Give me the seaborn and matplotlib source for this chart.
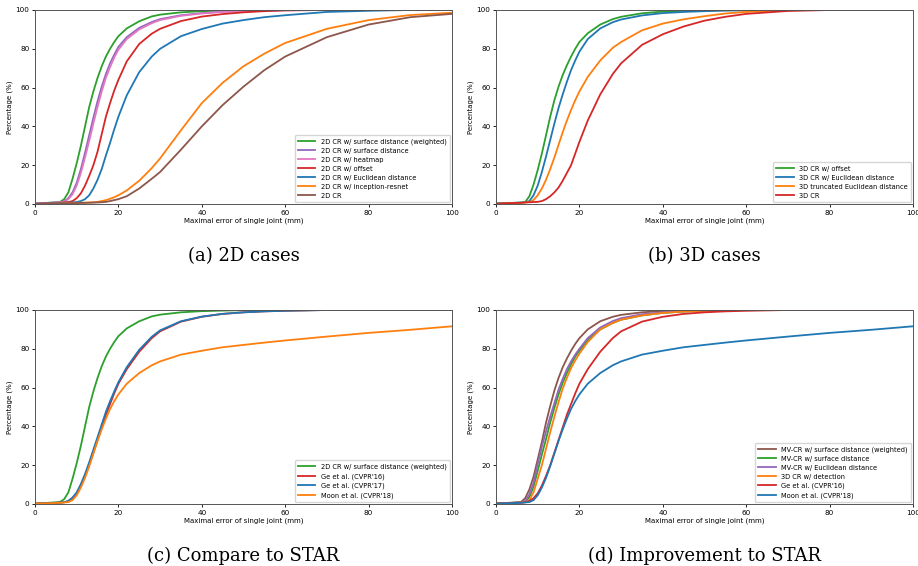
import pandas as pd
import matplotlib
matplotlib.use("Agg")
import matplotlib.pyplot as plt
import seaborn as sns

# shared error thresholds (mm)
err_mm = [0, 6, 7, 8, 9, 10, 11, 12, 13, 14, 15, 16, 17, 18, 19, 20,
          22, 25, 28, 30, 35, 40, 45, 50, 55, 60, 70, 80, 90, 100]

# (a) 2D cases
a_surf_w = [0.2, 1, 2.5, 6, 13, 21, 30, 40, 50, 58, 65, 71, 76, 80, 83.5, 86.5,
            90.5, 94.2, 96.7, 97.6, 98.8, 99.4, 99.7, 99.9, 100, 100, 100, 100, 100, 100]
a_surf = [0.2, 0.9, 1.3, 3, 6, 11, 18, 26.5, 35.5, 44.5, 53, 60.5, 67, 72.5, 77, 81,
          86, 90.8, 93.8, 95.3, 97.3, 98.4, 99.1, 99.5, 99.8, 99.9, 100, 100, 100, 100]
a_heatmap = [0.2, 0.8, 1.1, 2.5, 5, 9.5, 16, 24, 32.5, 41.5, 50, 58, 65, 70.5, 75.5, 79.5,
             85, 90, 93.2, 94.8, 97, 98.2, 99, 99.4, 99.7, 99.9, 100, 100, 100, 100]
a_offset = [0.1, 0.6, 0.8, 1, 1.5, 3, 5.5, 9.5, 14.5, 20, 27, 36, 45, 52, 58.5, 64,
            73.5, 82.5, 87.8, 90.3, 94.3, 96.6, 97.9, 98.8, 99.4, 99.8, 100, 100, 100, 100]
a_eucl = [0.1, 0.5, 0.6, 0.7, 0.8, 1, 1.5, 2.5, 4.5, 8, 12.5, 18, 25, 31.5, 38.5, 45,
          56, 68, 76, 80, 86.5, 90.2, 93, 94.8, 96.3, 97.3, 99, 99.6, 100, 100]
a_incep = [0, 0.3, 0.4, 0.5, 0.55, 0.6, 0.65, 0.7, 0.8, 0.9, 1.1, 1.5, 2, 2.7, 3.5, 4.5,
           7, 12, 18.5, 23.5, 38, 52, 62.5, 71, 77.5, 83, 90.3, 94.8, 97.4, 98.6]
a_plain = [0, 0.3, 0.35, 0.4, 0.45, 0.5, 0.55, 0.6, 0.65, 0.7, 0.8, 0.9, 1.1, 1.5, 2, 2.5,
           4, 8, 13, 16.5, 28, 40, 51, 60.5, 69, 76, 86, 92.5, 96.3, 98]

# (b) 3D cases
b_offset = [0.2, 0.8, 1, 4, 10, 17.5, 26, 35.5, 45, 53.5, 60.5, 66.5, 71.5, 76, 80, 83.5,
            88, 92.5, 95.3, 96.5, 98.3, 99.2, 99.6, 99.8, 99.9, 100, 100, 100, 100, 100]
b_eucl = [0.2, 0.7, 0.9, 1.5, 4.5, 9.5, 16.5, 24.5, 33, 41.5, 49.5, 56.5, 63, 69, 74, 78.5,
          85, 90.5, 93.7, 95.1, 97.2, 98.4, 99, 99.4, 99.7, 99.8, 100, 100, 100, 100]
b_trunc = [0.1, 0.6, 0.8, 1, 2, 4.5, 8, 12.5, 18, 24, 30.5, 37, 43, 48.5, 53.5, 58,
           65.5, 74, 80.5, 83.5, 89.5, 93, 95.2, 96.8, 98.2, 99, 99.9, 100, 100, 100]
b_plain = [0.2, 0.6, 0.8, 0.9, 1, 1.1, 1.5, 2.5, 4, 6, 8.5, 12, 16, 20, 26, 32,
           43, 56.5, 67, 72.5, 82, 87.5, 91.5, 94.5, 96.5, 98, 99.5, 100, 100, 100]

# (c) / (d) baselines
ge16 = [0.2, 0.7, 0.9, 1.5, 3, 5.5, 9.5, 14.5, 20, 26.5, 33, 39.5, 46, 51.5, 57, 62,
        69.5, 78.5, 85.5, 89, 94, 96.5, 98, 98.8, 99.3, 99.6, 100, 100, 100, 100]
ge17 = [0.2, 0.7, 0.9, 1.6, 3.3, 6, 10.3, 15.5, 21.5, 28, 34.5, 41, 47.5, 53, 58, 62.8,
        70.5, 79.5, 86.2, 89.5, 94.2, 96.6, 98, 98.8, 99.3, 99.6, 100, 100, 100, 100]
moon18 = [0.2, 0.6, 0.8, 1, 2, 4.5, 8.5, 13.5, 19.5, 26, 32.5, 38.5, 44, 49, 53, 56.5,
          62, 67.5, 71.5, 73.5, 77, 79, 80.8, 82, 83.2, 84.3, 86.3, 88.2, 89.8, 91.6]

# (d) multi-view
mv_surf_w = [0.2, 1, 3, 7.5, 14, 23, 32, 42, 50.5, 58.5, 65, 70.5, 75, 79, 82.5, 85.5,
             90, 94.2, 96.5, 97.5, 98.8, 99.5, 99.8, 99.9, 100, 100, 100, 100, 100, 100]
mv_surf = [0.2, 0.8, 1.2, 3.5, 9, 17, 25.5, 33.5, 42, 49.5, 56.5, 62.5, 67.5, 72, 76, 79,
           84.5, 90, 93.3, 95, 97.2, 98.5, 99.2, 99.6, 99.8, 100, 100, 100, 100, 100]
mv_eucl = [0.2, 0.8, 1.5, 5, 11, 20.5, 29.5, 37.5, 45, 52, 59, 64.5, 69.5, 73.5, 77, 80,
           85.5, 91, 94.3, 95.8, 97.8, 98.8, 99.4, 99.7, 99.9, 100, 100, 100, 100, 100]
det_3d = [0.2, 0.7, 0.9, 2, 6, 13, 20, 28.5, 37, 45, 52.5, 59.5, 65, 70, 74, 77.5,
          83.5, 90, 93.3, 95, 97.2, 98.5, 99.2, 99.6, 99.8, 100, 100, 100, 100, 100]

C = {"blue": "#1f77b4", "orange": "#ff7f0e", "green": "#2ca02c", "red": "#d62728",
     "purple": "#9467bd", "brown": "#8c564b", "pink": "#e377c2"}

panels = [
    ("(a) 2D cases", [
        ("2D CR w/ surface distance (weighted)", a_surf_w, "green"),
        ("2D CR w/ surface distance", a_surf, "purple"),
        ("2D CR w/ heatmap", a_heatmap, "pink"),
        ("2D CR w/ offset", a_offset, "red"),
        ("2D CR w/ Euclidean distance", a_eucl, "blue"),
        ("2D CR w/ inception-resnet", a_incep, "orange"),
        ("2D CR", a_plain, "brown"),
    ]),
    ("(b) 3D cases", [
        ("3D CR w/ offset", b_offset, "green"),
        ("3D CR w/ Euclidean distance", b_eucl, "blue"),
        ("3D truncated Euclidean distance", b_trunc, "orange"),
        ("3D CR", b_plain, "red"),
    ]),
    ("(c) Compare to STAR", [
        ("2D CR w/ surface distance (weighted)", a_surf_w, "green"),
        ("Ge et al. (CVPR'16)", ge16, "red"),
        ("Ge et al. (CVPR'17)", ge17, "blue"),
        ("Moon et al. (CVPR'18)", moon18, "orange"),
    ]),
    ("(d) Improvement to STAR", [
        ("MV-CR w/ surface distance (weighted)", mv_surf_w, "brown"),
        ("MV-CR w/ surface distance", mv_surf, "green"),
        ("MV-CR w/ Euclidean distance", mv_eucl, "purple"),
        ("3D CR w/ detection", det_3d, "orange"),
        ("Ge et al. (CVPR'16)", ge16, "red"),
        ("Moon et al. (CVPR'18)", moon18, "blue"),
    ]),
]

fig = plt.figure(figsize=(9.18, 5.66), dpi=100)
W, H = 918, 566
boxes = [(35, 10), (496, 10), (35, 310), (496, 310)]
aw, ah = 417, 194

for (caption, series), (px, py) in zip(panels, boxes):
    ax = fig.add_axes([px / W, 1 - (py + ah) / H, aw / W, ah / H])
    for name, vals, col in series:
        sns.lineplot(x=err_mm, y=vals, color=C[col], lw=1.3, label=name, ax=ax)
    ax.set_xlim(0, 100)
    ax.set_ylim(0, 100)
    ax.set_xticks(range(0, 101, 20))
    ax.set_yticks(range(0, 101, 20))
    ax.tick_params(labelsize=5.2, length=2.5, width=0.6, pad=1.5)
    for sp in ax.spines.values():
        sp.set_linewidth(0.7)
        sp.set_color("#555555")
    ax.set_xlabel("Maximal error of single joint (mm)", fontsize=5, labelpad=1.5)
    ax.set_ylabel("Percentage (%)", fontsize=5, labelpad=2)
    ax.legend(loc="lower right", fontsize=4.8, handlelength=2.6,
              borderaxespad=0.3, labelspacing=0.45, borderpad=0.5)
    fig.text((px + aw / 2) / W, 1 - (py + ah + 52) / H, caption,
             ha="center", va="center", fontsize=13, family="DejaVu Serif")

fig.savefig("out.png", dpi=100)
